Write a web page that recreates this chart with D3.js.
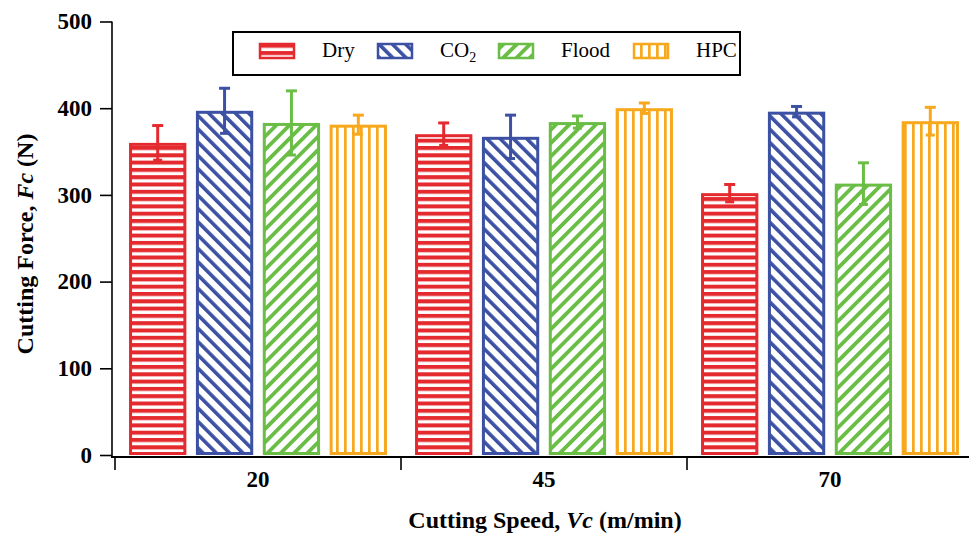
<!DOCTYPE html>
<meta charset="utf-8">
<style>
body { margin: 0; background: #fff; }
text { font-family: "Liberation Serif", "Times New Roman", serif; }
</style>
<body>
<script src="https://cdn.jsdelivr.net/npm/d3@7"></script>
<script>
// data
var categories = ["20", "45", "70"];
var series = ["Dry", "CO2", "Flood", "HPC"];
var dry = [360, 370, 302], dryErr = [20, 13, 10];
var co2 = [397, 367, 396], co2Err = [26, 25, 6];
var flood = [383, 384, 313], floodErr = [37, 7, 24];
var hpc = [381, 400, 385], hpcErr = [11, 6, 16];
var yTicks = [0, 100, 200, 300, 400, 500];

var values = {Dry: dry, CO2: co2, Flood: flood, HPC: hpc};
var errors = {Dry: dryErr, CO2: co2Err, Flood: floodErr, HPC: hpcErr};
var colors = {Dry: "#e42a2f", CO2: "#3c51a3", Flood: "#6abd45", HPC: "#f8a81c"};

var width = 969, height = 540;
var svg = d3.select("body").append("svg")
    .attr("width", width).attr("height", height);

// hatch patterns
var defs = svg.append("defs");
function pattern(id, w, h, rot, rect) {
  var p = defs.append("pattern").attr("id", id)
      .attr("patternUnits", "userSpaceOnUse")
      .attr("width", w).attr("height", h);
  if (rot) p.attr("patternTransform", "rotate(" + rot + ")");
  p.append("rect").attr("width", w).attr("height", h).attr("fill", "#fff");
  p.append("rect").attr("x", rect[0]).attr("y", rect[1])
      .attr("width", rect[2]).attr("height", rect[3]).attr("fill", rect[4]);
}
pattern("p-Dry", 10, 7.3, 0, [0, 0, 10, 4, colors.Dry]);
pattern("p-CO2", 9.4, 10, -45, [0, 0, 3.6, 10, colors.CO2]);
pattern("p-Flood", 9.4, 10, 45, [0, 0, 3.8, 10, colors.Flood]);
pattern("p-HPC", 8, 10, 0, [0, 0, 2.7, 10, colors.HPC]);

// scales
var y = d3.scaleLinear().domain([0, 500]).range([455, 21.5]);
var x0 = d3.scaleBand().domain(categories).range([115, 973]);
var x1 = d3.scaleBand().domain(series).range([0, x0.bandwidth()])
    .paddingInner(0.143).paddingOuter(0.21);

var rows = [];
categories.forEach(function(c, i) {
  series.forEach(function(s) {
    rows.push({cat: c, s: s, v: values[s][i], e: errors[s][i]});
  });
});

// bars
svg.append("g").selectAll("rect")
    .data(rows)
  .enter().append("rect")
    .attr("x", function(d) { return x0(d.cat) + x1(d.s) + 1.5; })
    .attr("width", x1.bandwidth() - 3)
    .attr("y", function(d) { return y(d.v) + 1.5; })
    .attr("height", function(d) { return y(0) - y(d.v) - 3; })
    .attr("fill", function(d) { return "url(#p-" + d.s + ")"; })
    .attr("stroke", function(d) { return colors[d.s]; })
    .attr("stroke-width", 3);

// error bars
var eb = svg.append("g").selectAll("g")
    .data(rows)
  .enter().append("g")
    .attr("stroke", function(d) { return colors[d.s]; })
    .attr("stroke-width", 3);
function cx(d) { return x0(d.cat) + x1(d.s) + x1.bandwidth() / 2; }
eb.append("line")
    .attr("x1", cx).attr("x2", cx)
    .attr("y1", function(d) { return y(d.v + d.e); })
    .attr("y2", function(d) { return y(d.v - d.e); });
eb.append("line")
    .attr("x1", function(d) { return cx(d) - 5.5; })
    .attr("x2", function(d) { return cx(d) + 5.5; })
    .attr("y1", function(d) { return y(d.v + d.e); })
    .attr("y2", function(d) { return y(d.v + d.e); });
eb.append("line")
    .attr("x1", function(d) { return cx(d) - 4.5; })
    .attr("x2", function(d) { return cx(d) + 4.5; })
    .attr("y1", function(d) { return y(d.v - d.e); })
    .attr("y2", function(d) { return y(d.v - d.e); });

// y axis
var yAxis = svg.append("g")
    .attr("transform", "translate(112,0)")
    .call(d3.axisLeft(y).tickValues(yTicks).tickSize(12).tickPadding(8));
yAxis.select(".domain").remove();
yAxis.selectAll("line").attr("stroke", "#000").attr("stroke-width", 1.6);
yAxis.selectAll("text")
    .attr("font-size", 23).attr("font-weight", "bold").attr("fill", "#000");
svg.append("line")
    .attr("x1", 112).attr("x2", 112)
    .attr("y1", y(500)).attr("y2", 457.5)
    .attr("stroke", "#000").attr("stroke-width", 1.6);

// x axis
svg.append("line")
    .attr("x1", 111).attr("x2", width)
    .attr("y1", 457).attr("y2", 457)
    .attr("stroke", "#000").attr("stroke-width", 1.8);
svg.append("g").selectAll("line")
    .data(categories)
  .enter().append("line")
    .attr("x1", function(d) { return x0(d); })
    .attr("x2", function(d) { return x0(d); })
    .attr("y1", 457).attr("y2", 470)
    .attr("stroke", "#000").attr("stroke-width", 1.6);
var xAxis = svg.append("g")
    .attr("transform", "translate(0,457)")
    .call(d3.axisBottom(x0).tickSize(0).tickPadding(14));
xAxis.select(".domain").remove();
xAxis.selectAll("text")
    .attr("font-size", 23).attr("font-weight", "bold").attr("fill", "#000");

// axis titles
var xt = svg.append("text")
    .attr("x", 545).attr("y", 528)
    .attr("text-anchor", "middle")
    .attr("font-size", 24).attr("font-weight", "bold");
xt.append("tspan").text("Cutting Speed, ");
xt.append("tspan").attr("font-style", "italic").text("Vc");
xt.append("tspan").text(" (m/min)");

var yt = svg.append("text")
    .attr("transform", "translate(33,244) rotate(-90)")
    .attr("text-anchor", "middle")
    .attr("font-size", 24).attr("font-weight", "bold");
yt.append("tspan").text("Cutting Force, ");
yt.append("tspan").attr("font-style", "italic").text("Fc");
yt.append("tspan").text(" (N)");

// legend
svg.append("rect")
    .attr("x", 233).attr("y", 32).attr("width", 507).attr("height", 43)
    .attr("fill", "#fff").attr("stroke", "#000").attr("stroke-width", 2);
var legX = [259, 377, 498, 633];
series.forEach(function(s, i) {
  svg.append("rect")
      .attr("x", legX[i] + 1).attr("y", 44)
      .attr("width", 34).attr("height", 14)
      .attr("fill", "url(#p-" + s + ")")
      .attr("stroke", colors[s]).attr("stroke-width", 2.5);
  var t = svg.append("text")
      .attr("x", legX[i] + 63).attr("y", 57)
      .attr("font-size", 21);
  if (s === "CO2") {
    t.append("tspan").text("CO");
    t.append("tspan").attr("dy", 5).attr("font-size", 14).text("2");
  } else {
    t.text(s);
  }
});
</script>
</body>
